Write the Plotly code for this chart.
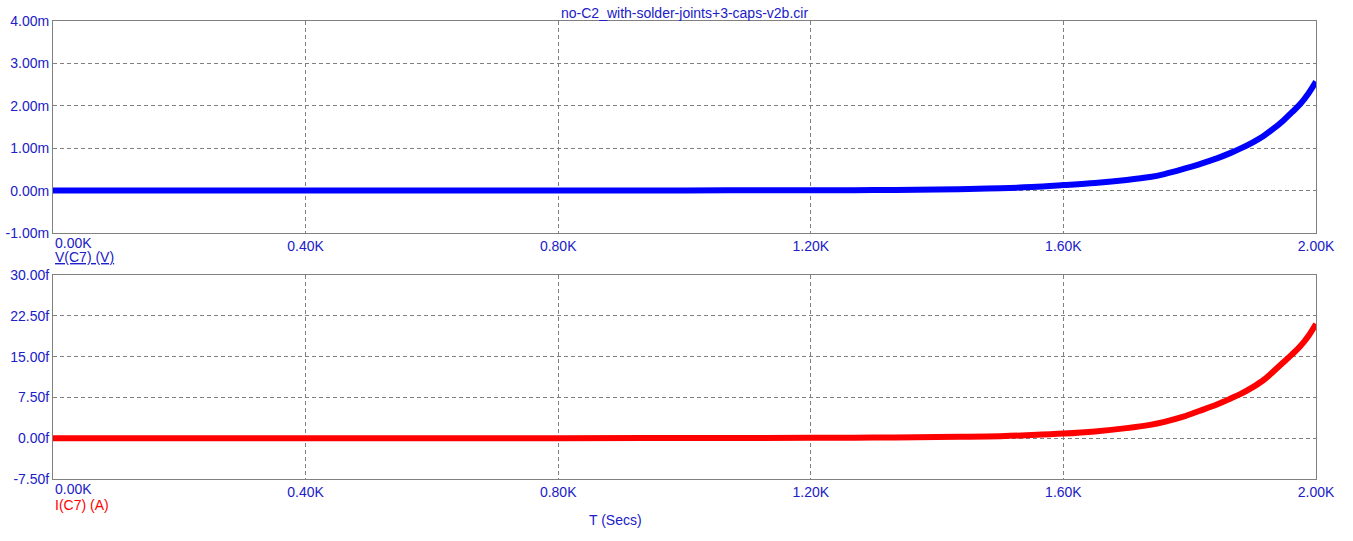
import plotly.graph_objects as go
from plotly.subplots import make_subplots

# Data (time in seconds)
t_secs = [0, 400, 800, 1000, 1200, 1300, 1400, 1450, 1500, 1550, 1600, 1650, 1700,
          1737, 1760, 1790, 1815, 1843, 1865, 1880, 1900, 1917, 1930, 1948, 1962, 1975, 1988, 2000]
v_c7_mV = [0.0, 0.0, 0.002, 0.005, 0.008, 0.013, 0.025, 0.038, 0.055, 0.085, 0.13, 0.18, 0.25,
           0.32, 0.39, 0.51, 0.62, 0.76, 0.89, 0.99, 1.14, 1.29, 1.43, 1.65, 1.85, 2.04, 2.29, 2.57]
i_c7_fA = [0.0, 0.0, 0.01, 0.03, 0.07, 0.12, 0.2, 0.28, 0.38, 0.58, 0.85, 1.25, 1.85,
           2.45, 3.0, 3.95, 5.0, 6.2, 7.3, 8.1, 9.4, 10.7, 12.0, 13.9, 15.4, 16.9, 18.8, 21.0]

x_ticks = [0, 400, 800, 1200, 1600, 2000]
x_tick_text = ["", "0.40K", "0.80K", "1.20K", "1.60K", "2.00K"]
v_ticks = [-1, 0, 1, 2, 3, 4]
v_tick_text = ["-1.00m", "0.00m", "1.00m", "2.00m", "3.00m", "4.00m"]
i_ticks = [-7.5, 0, 7.5, 15, 22.5, 30]
i_tick_text = ["-7.50f", "0.00f", "7.50f", "15.00f", "22.50f", "30.00f"]

title_text = "no-C2_with-solder-joints+3-caps-v2b.cir"

LBL = "#2020c8"
GRID = "#808080"
FONT = "Liberation Sans, Arial, sans-serif"
FS = 14

fig = make_subplots(rows=2, cols=1, shared_xaxes=False)

fig.add_trace(go.Scatter(x=t_secs, y=v_c7_mV, mode="lines",
                         line=dict(color="#0000ff", width=6, shape="spline", smoothing=1.0),
                         showlegend=False), row=1, col=1)
fig.add_trace(go.Scatter(x=t_secs, y=i_c7_fA, mode="lines",
                         line=dict(color="#ff0000", width=6, shape="spline", smoothing=1.0),
                         showlegend=False), row=2, col=1)

axis_common = dict(showline=True, linecolor=GRID, linewidth=1, mirror=True,
                   showgrid=True, gridcolor=GRID, gridwidth=1, griddash="4px,3px",
                   zeroline=False, ticks="", automargin=False,
                   tickfont=dict(family=FONT, size=FS, color=LBL))

for ax in ["xaxis", "xaxis2"]:
    fig.update_layout({ax: dict(range=[0, 2000], tickmode="array", tickvals=x_ticks,
                                ticktext=x_tick_text, ticklabelstandoff=0, **axis_common)})

fig.update_layout(
    yaxis=dict(domain=[0.5371, 1.0], range=[-1, 4], tickmode="array", tickvals=v_ticks,
               ticktext=v_tick_text, ticklabelstandoff=0, **axis_common),
    yaxis2=dict(domain=[0.0, 0.4454], range=[-7.5, 30], tickmode="array", tickvals=i_ticks,
                ticktext=i_tick_text, ticklabelstandoff=0, **axis_common),
    xaxis=dict(domain=[0, 1]),
    xaxis2=dict(domain=[0, 1]),
)

annots = [
    dict(text=title_text, xref="paper", yref="paper", x=0.5, y=1.0, yshift=8,
         xanchor="center", yanchor="middle", showarrow=False,
         font=dict(family=FONT, size=FS, color=LBL)),
    dict(text="0.00K", xref="x", yref="paper", x=0, y=0.5371, yshift=-10,
         xanchor="left", yanchor="middle", showarrow=False,
         font=dict(family=FONT, size=FS, color=LBL)),
    dict(text="0.00K", xref="x2", yref="paper", x=0, y=0.0, yshift=-10,
         xanchor="left", yanchor="middle", showarrow=False,
         font=dict(family=FONT, size=FS, color=LBL)),
    dict(text="<u>V(C7) (V)</u>", xref="x", yref="paper", x=0, y=0.5371, yshift=-24,
         xanchor="left", yanchor="middle", showarrow=False,
         font=dict(family=FONT, size=FS, color=LBL)),
    dict(text="I(C7) (A)", xref="x2", yref="paper", x=0, y=0.0, yshift=-26,
         xanchor="left", yanchor="middle", showarrow=False,
         font=dict(family=FONT, size=FS, color="#ff0000")),
    dict(text="T (Secs)", xref="paper", yref="paper", x=(615 - 53) / 1263, y=0.0, yshift=-41,
         xanchor="center", yanchor="middle", showarrow=False,
         font=dict(family=FONT, size=FS, color=LBL)),
]

fig.update_layout(
    width=1353, height=541,
    margin=dict(l=53, r=37, t=21, b=62, autoexpand=False),
    paper_bgcolor="white", plot_bgcolor="white",
    annotations=annots,
    font=dict(family=FONT, size=FS, color=LBL),
)

# remove the page's default 8px body margin so the figure fills the window exactly
fig.write_html("out.html",
               config={"displayModeBar": False},
               post_script="document.body.style.margin='0';document.body.style.overflow='hidden';")
